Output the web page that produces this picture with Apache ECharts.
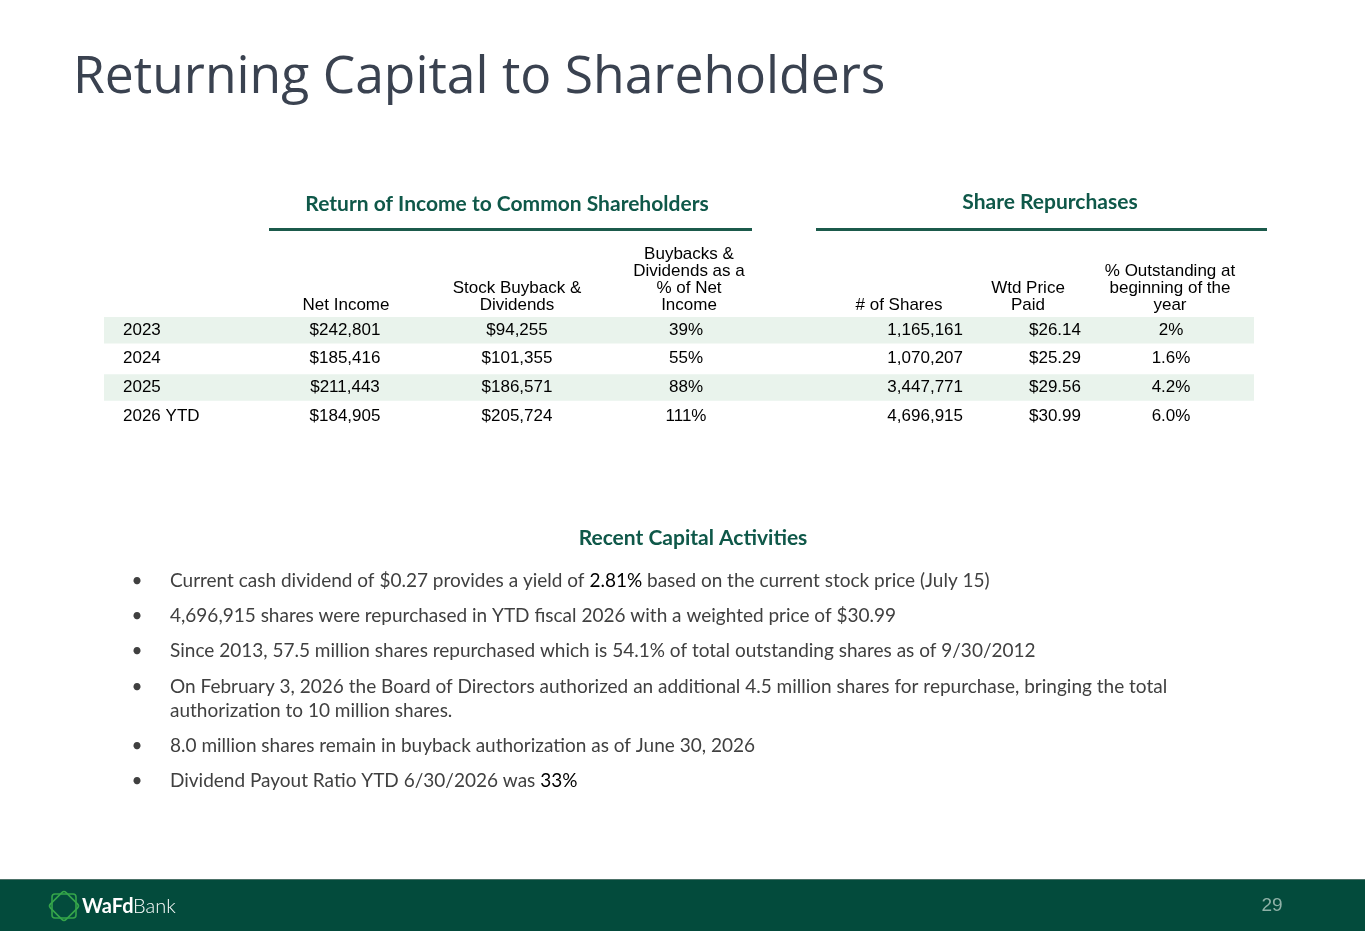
<!DOCTYPE html>
<html>
<head>
<meta charset="utf-8">
<script src="https://cdn.jsdelivr.net/npm/echarts@6/dist/echarts.min.js"></script>
<style>html,body{margin:0;padding:0;background:#fff}#c{width:1365px;height:931px}</style>
</head>
<body>
<div id="c"></div>
<script>
// ---- data ----
var years = ['2023', '2024', '2025', '2026 YTD'];
var netIncome = ['$242,801', '$185,416', '$211,443', '$184,905'];
var buybackDividends = ['$94,255', '$101,355', '$186,571', '$205,724'];
var pctOfNetIncome = ['39%', '55%', '88%', '111%'];
var sharesRepurchased = ['1,165,161', '1,070,207', '3,447,771', '4,696,915'];
var wtdPricePaid = ['$26.14', '$25.29', '$29.56', '$30.99'];
var pctOutstanding = ['2%', '1.6%', '4.2%', '6.0%'];
var headersLeft = ['Net Income', 'Stock Buyback &\nDividends', 'Buybacks &\nDividends as a\n% of Net\nIncome'];
var headersRight = ['# of Shares', 'Wtd Price\nPaid', '% Outstanding at\nbeginning of the\nyear'];
var bullets = [
  [['Current cash dividend of $0.27 provides a yield of ', 'n'], ['2.81%', 'b'], [' based on the current stock price (July 15)', 'n']],
  [['4,696,915 shares were repurchased in YTD fiscal 2026 with a weighted price of $30.99', 'n']],
  [['Since 2013, 57.5 million shares repurchased which is 54.1% of total outstanding shares as of 9/30/2012', 'n']],
  [['On February 3, 2026 the Board of Directors authorized an additional 4.5 million shares for repurchase, bringing the total\nauthorization to 10 million shares.', 'n']],
  [['8.0 million shares remain in buyback authorization as of June 30, 2026', 'n']],
  [['Dividend Payout Ratio YTD 6/30/2026 was ', 'n'], ['33%', 'b']]
];

// ---- layout (positions / styles) ----
var GREEN = '#0f5849';
var TXT = '#000';
var colX = [345, 517, 686, 963, 1055, 1171];
var colAlign = ['center', 'center', 'center', 'right', 'center', 'center'];
var headX = [346, 517, 689, 899, 1028, 1170];
var bulletY = [581, 616, 651, 687, 746, 781];
var tableFont = '17px "Liberation Sans", Arial, sans-serif';

var chart = echarts.init(document.getElementById('c'), null, {renderer: 'canvas'});

var columns = [netIncome, buybackDividends, pctOfNetIncome, sharesRepurchased, wtdPricePaid, pctOutstanding];

var graphics = [];
// title
graphics.push({type: 'text', x: 73, y: 78, style: {text: 'Returning Capital to Shareholders', font: '400 51.6px "Open Sans", sans-serif', fill: '#3a4250', textVerticalAlign: 'middle'}});
// section titles
graphics.push({type: 'text', x: 507, y: 204, style: {text: 'Return of Income to Common Shareholders', font: 'bold 21px Lato, sans-serif', fill: GREEN, textAlign: 'center', textVerticalAlign: 'middle'}});
graphics.push({type: 'text', x: 1050, y: 202, style: {text: 'Share Repurchases', font: 'bold 21px Lato, sans-serif', fill: GREEN, textAlign: 'center', textVerticalAlign: 'middle'}});
graphics.push({type: 'rect', shape: {x: 269, y: 228, width: 483, height: 3}, style: {fill: '#1b5a4b'}});
graphics.push({type: 'rect', shape: {x: 816, y: 228, width: 451, height: 3}, style: {fill: '#1b5a4b'}});
// headers
var allHeaders = headersLeft.concat(headersRight);
allHeaders.forEach(function (h, i) {
  graphics.push({type: 'text', x: headX[i], y: 314, style: {text: h, font: tableFont, lineHeight: 17, fill: TXT, textAlign: 'center', textVerticalAlign: 'bottom'}});
});
// recent capital activities
graphics.push({type: 'text', x: 693, y: 538, style: {text: 'Recent Capital Activities', font: 'bold 21px Lato, sans-serif', fill: GREEN, textAlign: 'center', textVerticalAlign: 'middle'}});
bullets.forEach(function (parts, i) {
  var txt = parts.map(function (p) { return '{' + p[1] + '|' + p[0].replace(/\n/g, '}\n{' + p[1] + '|') + '}'; }).join('');
  graphics.push({type: 'text', x: 137, y: bulletY[i], style: {text: '•', font: '19px Lato, sans-serif', fill: '#404040', textAlign: 'center', textVerticalAlign: 'middle'}});
  graphics.push({type: 'text', x: 170, y: bulletY[i] - 12, style: {
    text: txt, font: '19px Lato, sans-serif', fill: '#404040', lineHeight: 24, textVerticalAlign: 'top',
    rich: {
      n: {fill: '#404040', fontSize: 19, fontFamily: 'Lato', lineHeight: 24},
      b: {fill: '#000000', fontSize: 19, fontFamily: 'Lato', lineHeight: 24}
    }
  }});
});
// footer
graphics.push({type: 'rect', shape: {x: 0, y: 879, width: 1365, height: 52}, style: {fill: '#034b3c'}});
graphics.push({type: 'rect', shape: {x: 0, y: 879, width: 1365, height: 1}, style: {fill: '#4d7269'}});
graphics.push({type: 'text', x: 1272, y: 906, style: {text: '29', font: '19px "Liberation Sans", Arial, sans-serif', fill: '#8fb1a7', textAlign: 'center', textVerticalAlign: 'middle'}});
// logo mark
graphics.push({type: 'rect', x: 64, y: 906, rotation: 0, shape: {x: -12, y: -12, width: 24, height: 24, r: 3}, style: {fill: 'none', stroke: '#35a54a', lineWidth: 1.6}});
graphics.push({type: 'rect', x: 64, y: 906, rotation: Math.PI / 4, shape: {x: -11, y: -11, width: 22, height: 22, r: 3}, style: {fill: 'none', stroke: '#35a54a', lineWidth: 1.6}});
graphics.push({type: 'text', x: 82, y: 907, style: {text: 'WaFd', font: 'bold 20px Lato, sans-serif', fill: '#ffffff', textVerticalAlign: 'middle'}});
graphics.push({type: 'text', x: 133, y: 907, style: {text: 'Bank', font: '300 20px Lato, sans-serif', fill: '#ffffff', textVerticalAlign: 'middle'}});

var option = {
  animation: false,
  backgroundColor: '#ffffff',
  grid: {left: 0, right: 0, top: 315.6, height: 114.8, containLabel: false},
  xAxis: {type: 'value', min: 0, max: 1365, show: false},
  yAxis: {type: 'category', data: years, inverse: true, show: false},
  graphic: graphics,
  series: [{
    type: 'custom',
    data: years.map(function (y, i) { return [0, i]; }),
    renderItem: function (params, api) {
      var r = api.value(1);
      var c = api.coord([0, r]);
      var children = [];
      if (r % 2 === 0) {
        var left = api.coord([104, r])[0];
        var right = api.coord([1254, r])[0];
        children.push({type: 'rect', shape: {x: left, y: c[1] - 13, width: right - left, height: 26.5}, style: {fill: '#e9f3ec'}});
      }
      children.push({type: 'text', x: api.coord([123, r])[0], y: c[1], style: {text: years[r], font: tableFont, fill: TXT, textAlign: 'left', textVerticalAlign: 'middle'}});
      columns.forEach(function (col, k) {
        children.push({type: 'text', x: api.coord([colX[k], r])[0], y: c[1], style: {text: col[r], font: tableFont, fill: TXT, textAlign: colAlign[k], textVerticalAlign: 'middle'}});
      });
      return {type: 'group', children: children};
    }
  }]
};
chart.setOption(option);
</script>
</body>
</html>
